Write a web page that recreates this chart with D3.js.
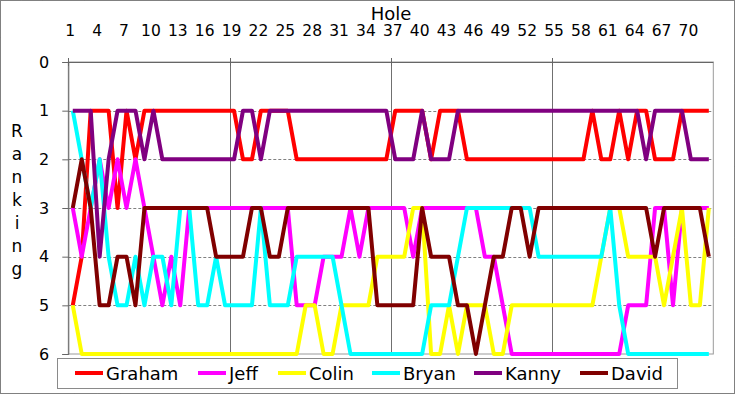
<!DOCTYPE html>
<html>
<head>
<meta charset="utf-8">
<script src="https://cdn.jsdelivr.net/npm/d3@7"></script>
<style>
  body { margin: 0; background: #fff; }
  text { font-family: "DejaVu Sans", Verdana, sans-serif; fill: #000; }
</style>
</head>
<body>
<div id="chart"></div>
<script>
// Hole numbers (categories) and the labels shown on the top axis
var holes = d3.range(1, 73);
var holeLabels = [1, 4, 7, 10, 13, 16, 19, 22, 25, 28, 31, 34, 37, 40, 43, 46, 49, 52, 55, 58, 61, 64, 67, 70];
var rankTicks = [0, 1, 2, 3, 4, 5, 6];

// Ranking after each hole
var graham = [5,4,1,1,1,3,1,2,1,1,1,1, 1,1,1,1,1,1,1,2,2,1,1,1, 1,2,2,2,2,2,2,2,2,2,2,2,
              1,1,1,1,2,1,1,1,2,2,2,2, 2,2,2,2,2,2,2,2,2,2,1,2, 2,1,2,1,1,2,2,2,1,1,1,1];
var jeff   = [3,4,3,2,3,2,3,2,3,4,5,4, 5,3,3,3,3,3,3,3,3,3,3,3, 3,5,5,5,4,4,4,3,4,3,3,3,
              3,3,4,3,3,3,3,3,3,3,4,4, 5,6,6,6,6,6,6,6,6,6,6,6, 6,6,5,5,5,3,3,5,3,3,3,3];
var colin  = [5,6,6,6,6,6,6,6,6,6,6,6, 6,6,6,6,6,6,6,6,6,6,6,6, 6,6,5,5,6,6,5,5,5,5,4,4,
              4,4,3,3,6,6,5,6,5,5,5,6, 6,5,5,5,5,5,5,5,5,5,5,4, 3,3,4,4,4,4,5,4,3,5,5,3];
var bryan  = [1,2,3,2,4,5,5,4,5,4,4,5, 3,3,5,5,4,5,5,5,5,3,5,5, 5,4,4,4,4,4,5,6,6,6,6,6,
              6,6,6,6,5,5,5,4,3,3,3,3, 3,3,3,3,4,4,4,4,4,4,4,4, 3,5,6,6,6,6,6,6,6,6,6,6];
var kanny  = [1,1,1,4,2,1,1,1,2,1,2,2, 2,2,2,2,2,2,2,1,1,2,1,1, 1,1,1,1,1,1,1,1,1,1,1,1,
              2,2,2,1,2,2,2,1,1,1,1,1, 1,1,1,1,1,1,1,1,1,1,1,1, 1,1,1,1,2,1,1,1,1,2,2,2];
var david  = [3,2,3,5,5,4,4,5,3,3,3,3, 3,3,3,3,4,4,4,4,3,3,4,4, 3,3,3,3,3,3,3,3,3,3,5,5,
              5,5,5,3,4,4,4,5,5,6,5,4, 4,3,3,4,3,3,3,3,3,3,3,3, 3,3,3,3,3,4,3,3,3,3,3,4];

var players = ["Graham", "Jeff", "Colin", "Bryan", "Kanny", "David"];
var colors = ["#ff0000", "#ff00ff", "#ffff00", "#00ffff", "#800080", "#800000"];
var series = [graham, jeff, colin, bryan, kanny, david];

var svgWidth = 736;
var svgHeight = 398;

var plot = { left: 68.3, right: 713.3, top: 62, bottom: 354 };

var svg = d3.select("#chart")
    .append("svg")
    .attr("width", svgWidth)
    .attr("height", svgHeight);

svg.append("rect")
    .attr("width", svgWidth)
    .attr("height", svgHeight)
    .attr("fill", "#fff");

// dotted chart border
svg.append("rect")
    .attr("x", 0.5)
    .attr("y", 0.5)
    .attr("width", 734)
    .attr("height", 393)
    .attr("fill", "none")
    .attr("stroke", "#000")
    .attr("stroke-dasharray", "1,1");

// Scales
var xScale = d3.scaleBand()
    .domain(holes)
    .range([plot.left, plot.right]);

var yScale = d3.scaleLinear()
    .domain([0, 6])
    .range([plot.top, plot.bottom]);

var xCenter = function (h) { return xScale(h) + xScale.bandwidth() / 2; };

// plot area border
svg.append("rect")
    .attr("x", plot.left)
    .attr("y", plot.top)
    .attr("width", plot.right - plot.left)
    .attr("height", plot.bottom - plot.top)
    .attr("fill", "#fff")
    .attr("stroke", "#9a9a9a")
    .attr("stroke-width", 1);

// horizontal dashed gridlines
svg.append("g")
    .selectAll("line")
    .data([1, 2, 3, 4, 5])
    .enter()
    .append("line")
    .attr("x1", plot.left)
    .attr("x2", plot.right)
    .attr("y1", d => Math.round(yScale(d)) + 0.5)
    .attr("y2", d => Math.round(yScale(d)) + 0.5)
    .attr("stroke", "#808080")
    .attr("stroke-dasharray", "3,2");

// vertical gridlines every 18 holes
var sections = [19, 37, 55];
svg.append("g")
    .selectAll("line")
    .data(sections)
    .enter()
    .append("line")
    .attr("x1", d => Math.round(xScale(d)) + 0.5)
    .attr("x2", d => Math.round(xScale(d)) + 0.5)
    .attr("y1", plot.top)
    .attr("y2", plot.bottom)
    .attr("stroke", "#707070");

// y axis
var leftAxis = d3.axisLeft(yScale)
    .tickValues(rankTicks)
    .tickFormat(d3.format("d"))
    .tickSize(6)
    .tickPadding(13);

var yAxis = svg.append("g")
    .attr("transform", `translate(${plot.left}, 0)`)
    .call(leftAxis);

yAxis.select(".domain").attr("stroke", "#666");
yAxis.selectAll(".tick line").attr("stroke", "#666");
yAxis.selectAll("text")
    .style("font-size", "16px")
    .style("font-family", "'DejaVu Sans', Verdana, sans-serif");

// top x axis line with crossing tick marks at section boundaries
svg.append("line")
    .attr("x1", plot.left)
    .attr("x2", plot.right)
    .attr("y1", plot.top + 0.5)
    .attr("y2", plot.top + 0.5)
    .attr("stroke", "#666");

svg.append("g")
    .selectAll("line")
    .data([1, 19, 37, 55])
    .enter()
    .append("line")
    .attr("x1", d => Math.round(xScale(d)) + 0.5)
    .attr("x2", d => Math.round(xScale(d)) + 0.5)
    .attr("y1", plot.top - 4)
    .attr("y2", plot.top + 4)
    .attr("stroke", "#666");

// hole labels
svg.append("g")
    .selectAll("text")
    .data(holeLabels)
    .enter()
    .append("text")
    .attr("x", d => xCenter(d) - 2.5)
    .attr("y", 36)
    .attr("text-anchor", "middle")
    .style("font-size", "15.5px")
    .text(d => d);

// axis titles
svg.append("text")
    .attr("x", 391)
    .attr("y", 19.5)
    .attr("text-anchor", "middle")
    .style("font-size", "18px")
    .text("Hole");

var yTitle = svg.append("text")
    .attr("text-anchor", "middle")
    .style("font-size", "17px");

yTitle.selectAll("tspan")
    .data("Ranking".split(""))
    .enter()
    .append("tspan")
    .attr("x", 17)
    .attr("y", (d, i) => 137 + i * 23)
    .text(d => d);

// the lines, David drawn last so he sits on top
var line = d3.line()
    .x((d, i) => xCenter(holes[i]))
    .y(d => yScale(d));

svg.append("g")
    .selectAll("path")
    .data(series)
    .enter()
    .append("path")
    .attr("d", d => line(d))
    .attr("fill", "none")
    .attr("stroke", (d, i) => colors[i])
    .attr("stroke-width", 4)
    .attr("stroke-linejoin", "round");

// legend
var legendX = [75, 198, 278, 372, 474, 580];

svg.append("rect")
    .attr("x", 57.5)
    .attr("y", 358.5)
    .attr("width", 620)
    .attr("height", 30)
    .attr("fill", "#fff")
    .attr("stroke", "#8a8a8a");

var legendItems = svg.append("g")
    .selectAll("g")
    .data(players)
    .enter()
    .append("g")
    .attr("transform", (d, i) => `translate(${legendX[i]}, 373)`);

legendItems.append("line")
    .attr("x1", 0)
    .attr("x2", 28)
    .attr("stroke", (d, i) => colors[i])
    .attr("stroke-width", 4);

legendItems.append("text")
    .attr("x", 31)
    .attr("y", 6.5)
    .style("font-size", "18px")
    .text(d => d);
</script>
</body>
</html>
